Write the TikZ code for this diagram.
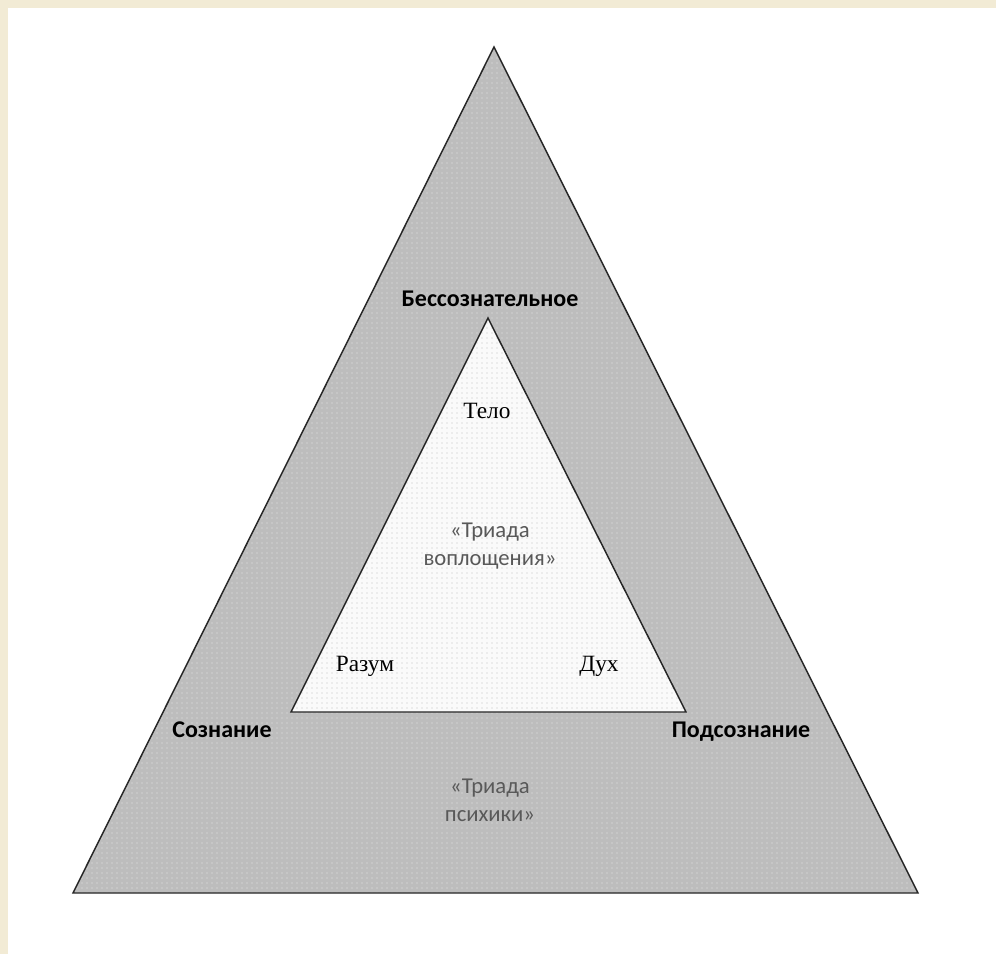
\documentclass[tikz,border=0pt]{standalone}
\usepackage{fontspec}
\setmainfont{Liberation Serif}
\newfontfamily\carlitofam{Carlito}
\usetikzlibrary{patterns}
\definecolor{beige}{HTML}{F2EBD5}
\definecolor{outerfill}{HTML}{BDBDBD}
\definecolor{outerdot}{HTML}{E6E6E6}
\definecolor{innerfill}{HTML}{FAFAFA}
\definecolor{innerdot}{HTML}{BEBEBE}
\definecolor{txtgray}{HTML}{595959}
\pgfdeclarepatternformonly{mydots}{\pgfpointorigin}{\pgfpoint{3.75pt}{3.75pt}}{\pgfpoint{3.75pt}{3.75pt}}{\pgfpathcircle{\pgfpoint{1.8pt}{1.8pt}}{0.5pt}\pgfusepath{fill}}
\tikzset{
  edge/.style={draw=black!85, line width=1.1pt, line join=miter},
  lab/.style={font=\carlitofam\bfseries\fontsize{18}{20}\selectfont, text=black, inner sep=0pt, anchor=base},
  serif/.style={font=\fontsize{17.5}{20}\selectfont, text=black, inner sep=0pt, anchor=base},
  triad/.style={font=\carlitofam\fontsize{17}{20.5}\selectfont, text=txtgray, align=center, inner sep=0pt, anchor=base}
}
\begin{document}
\begin{tikzpicture}[x=0.75pt,y=-0.75pt]
\useasboundingbox (0,0) rectangle (996,954);
\fill[white] (0,0) rectangle (996,954);
\fill[beige] (0,0) rectangle (996,8);
\fill[beige] (0,0) rectangle (8,954);
% outer triangle
\coordinate (OA) at (494,47);
\coordinate (OL) at (73,893);
\coordinate (OR) at (918,893);
\fill[outerfill] (OA) -- (OL) -- (OR) -- cycle;
\fill[pattern=mydots, pattern color=outerdot] (OA) -- (OL) -- (OR) -- cycle;
\draw[edge] (OA) -- (OL) -- (OR) -- cycle;
% inner triangle
\coordinate (IA) at (488,318);
\coordinate (IL) at (291,712);
\coordinate (IR) at (686,712);
\fill[innerfill] (IA) -- (IL) -- (IR) -- cycle;
\fill[pattern=mydots, pattern color=innerdot] (IA) -- (IL) -- (IR) -- cycle;
\draw[edge] (IA) -- (IL) -- (IR) -- cycle;
% labels
\node[lab] (bess) at (490,306) {Бессознательное};
\node[lab] (soz) at (222,737) {Сознание};
\node[lab] (podsoz) at (741,737) {Подсознание};
\node[serif] (telo) at (487,418) {Тело};
\node[serif] (razum) at (365,671) {Разум};
\node[serif] (duh) at (599,671) {Дух};
\node[triad] (tv) at (490,565) {«Триада\\воплощения»};
\node[triad] (tp) at (490,821) {«Триада\\психики»};
\end{tikzpicture}
\end{document}
